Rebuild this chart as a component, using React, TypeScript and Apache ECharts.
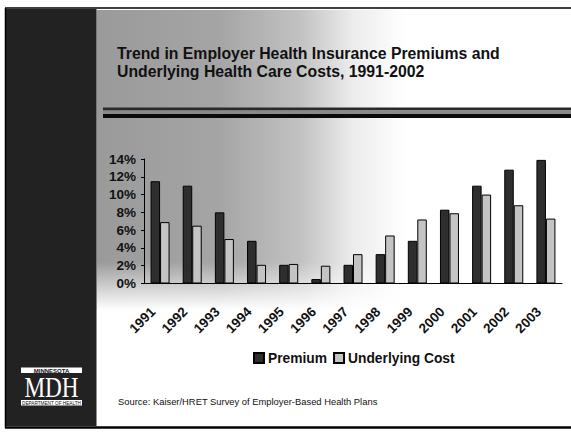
import React, { useEffect, useRef } from 'react';
import * as echarts from 'echarts';

const years = ['1991', '1992', '1993', '1994', '1995', '1996', '1997', '1998', '1999', '2000', '2001', '2002', '2003'];
const premium = [11.5, 11.0, 8.0, 4.8, 2.1, 0.5, 2.1, 3.3, 4.8, 8.3, 11.0, 12.8, 13.9];
const underlyingCost = [6.9, 6.5, 5.0, 2.1, 2.2, 2.0, 3.3, 5.4, 7.2, 7.9, 10.0, 8.8, 7.3];
const titleLines = ['Trend in Employer Health Insurance Premiums and', 'Underlying Health Care Costs, 1991-2002'];
const sourceText = 'Source: Kaiser/HRET Survey of Employer-Based Health Plans';

const FONT = '"Liberation Sans", Arial, Helvetica, sans-serif';

export default function App() {
  const ref = useRef<HTMLDivElement>(null);
  useEffect(() => {
    document.body.style.margin = '0';
    const chart = echarts.init(ref.current!, null, { renderer: 'svg' });
    chart.setOption({
      animation: false,
      backgroundColor: '#ffffff',
      grid: { left: 144, right: 9, top: 159, bottom: 150.5, containLabel: false },
      xAxis: {
        type: 'category',
        data: years,
        axisLine: { lineStyle: { color: '#000', width: 1 } },
        axisTick: { length: 3, lineStyle: { color: '#000' } },
        axisLabel: {
          interval: 0,
          rotate: 45,
          margin: 19,
          padding: [0, 10, 0, 0],
          fontFamily: FONT,
          fontWeight: 'bold',
          fontSize: 13.5,
          color: '#111',
        },
      },
      yAxis: {
        type: 'value',
        min: 0,
        max: 14,
        interval: 2,
        axisLine: { show: true, lineStyle: { color: '#000', width: 1 } },
        axisTick: { show: true, length: 3, lineStyle: { color: '#000' } },
        splitLine: { show: false },
        axisLabel: {
          formatter: '{value}%',
          margin: 8,
          fontFamily: FONT,
          fontWeight: 'bold',
          fontSize: 13.5,
          color: '#111',
        },
      },
      legend: {
        left: 248,
        top: 346,
        itemWidth: 10,
        itemHeight: 10,
        itemGap: 6,
        icon: 'rect',
        textStyle: { fontFamily: FONT, fontWeight: 'bold', fontSize: 13.8, color: '#111', padding: [0, 0, 0, -1] },
        data: ['Premium', 'Underlying Cost'],
      },
      series: [
        {
          name: 'Premium',
          type: 'bar',
          data: premium,
          barWidth: 9.5,
          barGap: '0%',
          itemStyle: { color: '#2e2e2e', borderColor: '#000', borderWidth: 1 },
        },
        {
          name: 'Underlying Cost',
          type: 'bar',
          data: underlyingCost,
          barWidth: 9.5,
          barGap: '0%',
          itemStyle: { color: '#c4c4c4', borderColor: '#000', borderWidth: 1 },
        },
      ],
      graphic: {
        elements: [
          {
            type: 'rect', z: -10, silent: true,
            shape: { x: 96.5, y: 10, width: 474.5, height: 300 },
            style: {
              fill: {
                type: 'linear', x: 0, y: 0, x2: 1, y2: 0,
                colorStops: [
                  { offset: 0, color: '#9a9a9a' },
                  { offset: 0.26, color: '#a5a5a5' },
                  { offset: 0.43, color: '#c2c2c2' },
                  { offset: 0.54, color: '#ececec' },
                  { offset: 0.65, color: '#ffffff' },
                  { offset: 1, color: '#ffffff' },
                ],
              },
            },
          },
          {
            type: 'rect', z: -9, silent: true,
            shape: { x: 96.5, y: 262, width: 474.5, height: 48 },
            style: {
              fill: {
                type: 'linear', x: 0, y: 0, x2: 0, y2: 1,
                colorStops: [
                  { offset: 0, color: 'rgba(255,255,255,0)' },
                  { offset: 1, color: 'rgba(255,255,255,1)' },
                ],
              },
            },
          },
          { type: 'rect', z: -8, silent: true, shape: { x: 6, y: 9, width: 90.5, height: 417 }, style: { fill: '#222222' } },
          { type: 'line', z: -7, silent: true, shape: { x1: 5, y1: 8, x2: 571, y2: 8 }, style: { stroke: '#000', lineWidth: 1.5 } },
          { type: 'line', z: -7, silent: true, shape: { x1: 5.5, y1: 8, x2: 5.5, y2: 428 }, style: { stroke: '#000', lineWidth: 1.5 } },
          { type: 'line', z: -7, silent: true, shape: { x1: 5, y1: 427.5, x2: 571, y2: 427.5 }, style: { stroke: '#000', lineWidth: 2.5 } },
          { type: 'rect', z: -7, silent: true, shape: { x: 103, y: 107.5, width: 468, height: 3 }, style: { fill: '#2a2a2a' } },
          { type: 'rect', z: -7, silent: true, shape: { x: 103, y: 110.5, width: 468, height: 3.5 }, style: { fill: '#8a8a8a' } },
          { type: 'rect', z: -7, silent: true, shape: { x: 103, y: 114, width: 468, height: 4 }, style: { fill: '#0a0a0a' } },
          {
            type: 'text', left: 117, top: 45,
            style: { text: titleLines[0], fontFamily: FONT, fontWeight: 'bold', fontSize: 15.8, fill: '#111' },
          },
          {
            type: 'text', left: 117, top: 63,
            style: { text: titleLines[1], fontFamily: FONT, fontWeight: 'bold', fontSize: 15.8, fill: '#111' },
          },
          {
            type: 'text', left: 118, top: 397,
            style: { text: sourceText, fontFamily: FONT, fontSize: 9.4, fill: '#111' },
          },
          { type: 'rect', silent: true, shape: { x: 21, y: 367.5, width: 61, height: 5.5 }, style: { fill: '#ffffff' } },
          {
            type: 'text', x: 51.5, y: 370.5,
            style: { text: 'MINNESOTA', fontFamily: FONT, fontWeight: 'bold', fontSize: 6, fill: '#111', align: 'center', verticalAlign: 'middle' },
          },
          {
            type: 'text', x: 51.5, y: 387, scaleX: 0.86, scaleY: 1.12,
            style: { text: 'MDH', fontFamily: '"Liberation Serif", "Times New Roman", serif', fontSize: 27, fill: '#ffffff', align: 'center', verticalAlign: 'middle' },
          },
          { type: 'rect', silent: true, shape: { x: 21, y: 400, width: 61, height: 5.5 }, style: { fill: '#ffffff' } },
          {
            type: 'text', x: 51.5, y: 403, scaleX: 0.85,
            style: { text: 'DEPARTMENT OF HEALTH', fontFamily: FONT, fontSize: 5.5, fill: '#111', align: 'center', verticalAlign: 'middle' },
          },
        ],
      },
    });
    return () => chart.dispose();
  }, []);
  return <div ref={ref} style={{ width: 571, height: 434 }} />;
}
